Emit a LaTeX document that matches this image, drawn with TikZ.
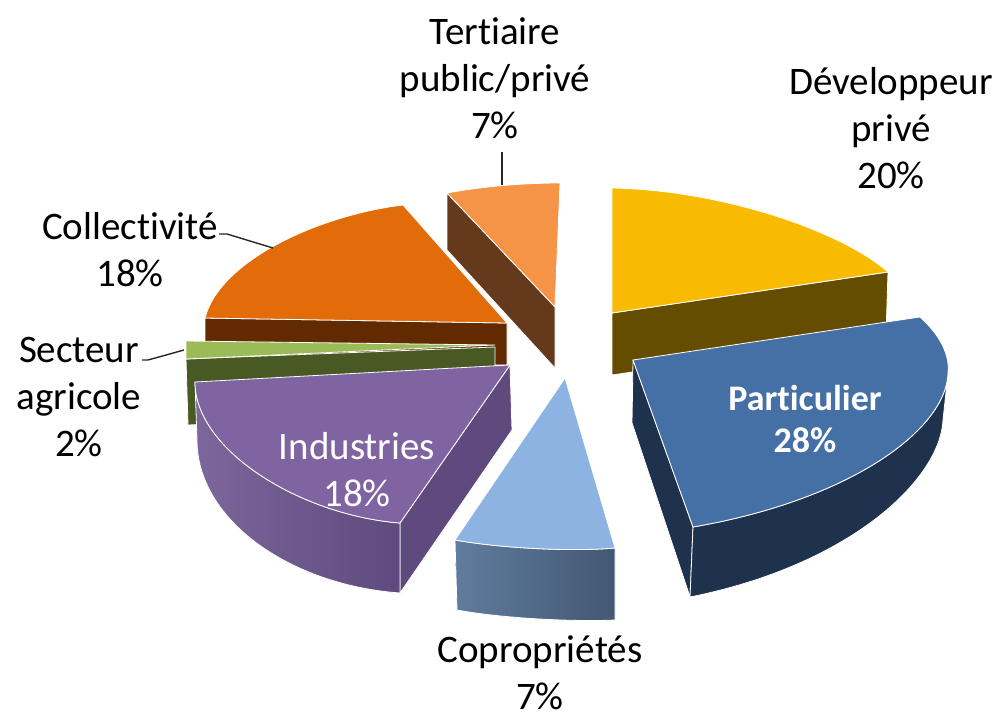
\documentclass[tikz,border=0pt]{standalone}
\usepackage{fontspec}
\setmainfont{Carlito}[Ligatures={NoCommon,NoContextual}]
\definecolor{terttop}{RGB}{245,148,70}
\definecolor{tertside}{RGB}{101,58,28}
\definecolor{colltop}{RGB}{226,107,10}
\definecolor{collside}{RGB}{98,42,0}
\definecolor{devtop}{RGB}{248,187,0}
\definecolor{devside}{RGB}{101,77,0}
\definecolor{agritop}{RGB}{155,187,89}
\definecolor{agriside}{RGB}{72,89,36}
\definecolor{indtop}{RGB}{128,100,162}
\definecolor{indside}{RGB}{110,86,144}
\definecolor{indface}{RGB}{94,74,124}
\definecolor{parttop}{RGB}{68,112,166}
\definecolor{partside}{RGB}{30,49,77}
\definecolor{coprotop}{RGB}{141,179,226}
\definecolor{coproside}{RGB}{88,117,153}
\begin{document}
\begin{tikzpicture}[x=0.5pt,y=-0.5pt,
    slice/.style={draw=white,line width=0.4pt,line join=round},
    lbl/.style={font=\fontsize{19.5}{23.5}\selectfont,align=center,inner sep=0pt},
    leader/.style={draw=black!85,line width=0.7pt}]
  \useasboundingbox (0,0) rectangle (995,718);

  % Tertiaire public/prive
  \path[slice,fill=tertside] (447,193) -- (555,307) -- (555,368) -- (447,250) -- cycle;
  \path[slice,fill=terttop] (447,193) .. controls (485,186) and (525,183) .. (560,183) -- (555,307) -- cycle;

  % Collectivite
  \path[slice,fill=collside] (205,318) -- (507,323) -- (507,365) -- (205,362) -- cycle;
  \path[slice,fill=colltop] (507,323) -- (403,205) .. controls (320,215) and (220,260) .. (205,318) -- cycle;

  % Developpeur prive
  \path[slice,fill=devside] (612,313) -- (888,272) -- (886,335) -- (612,375) -- cycle;
  \path[slice,fill=devtop] (612,188) .. controls (720,190) and (840,230) .. (888,272) -- (612,313) -- cycle;

  % Secteur agricole
  \path[slice,fill=agriside] (495,347) -- (186,359) -- (188,425) -- (495,412) -- cycle;
  \path[slice,fill=agritop] (495,345) -- (186,341) -- (186,359) -- cycle;

  % Industries
  \path[slice,fill=indface] (510,365) -- (400,523) -- (400,593) -- (512,430) -- cycle;
  \path[slice,left color=indside!90!white,right color=indface] (195,382) .. controls (195,450) and (300,515) .. (400,523)
    -- (400,593) .. controls (290,585) and (197,520) .. (197,440) -- cycle;
  \path[slice,fill=indtop] (510,365) -- (195,382) .. controls (195,450) and (300,515) .. (400,523) -- cycle;

  % Particulier
  \path[slice,fill=partside] (633,360) -- (693,527) -- (690,597) -- (632,423) -- cycle;
  \path[slice,fill=partside] (948,373) .. controls (946,430) and (850,500) .. (693,527)
    -- (690,597) .. controls (850,565) and (940,480) .. (943,420) -- cycle;
  \path[slice,fill=parttop] (633,360) -- (920,317) .. controls (940,335) and (950,355) .. (948,373)
    .. controls (946,430) and (850,500) .. (693,527) -- cycle;

  % Coproprietes
  \path[slice,left color=coproside!95!white,right color=coproside!75!black] (455,540) .. controls (500,548) and (570,552) .. (615,548)
    -- (615,620) .. controls (570,622) and (500,618) .. (457,610) -- cycle;
  \path[slice,fill=coprotop] (565,378) -- (455,540) .. controls (500,548) and (570,552) .. (615,548) -- cycle;

  % labels
  \node[lbl] (tert) at (495,78) {Tertiaire\\public/privé\\7\%};
  \node[lbl] (dev) at (891,128) {Développeur\\privé\\20\%};
  \node[lbl] (coll) at (130,250) {Collectivité\\18\%};
  \node[lbl] (agri) at (79,397) {Secteur\\agricole\\2\%};
  \node[lbl,text=white] (ind) at (357,470) {Industries\\18\%};
  \node[lbl,text=white,font=\fontsize{18}{21}\selectfont\bfseries] (part) at (805,419) {Particulier\\28\%};
  \node[lbl] (copro) at (540,673) {Copropriétés\\7\%};

  % leader lines
  \coordinate (tertfrom) at (502,152); \coordinate (tertto) at (502,185);
  \coordinate (collfrom) at (219,234); \coordinate (collto) at (273,248);
  \coordinate (agrifrom) at (142,360); \coordinate (agrito) at (184,350);
  \draw[leader] (tertfrom) -- (tertto);
  \draw[leader] (collfrom) -- ++(8,0) -- (collto);
  \draw[leader] (agrifrom) -- ++(6,0) -- (agrito);
\end{tikzpicture}
\end{document}
